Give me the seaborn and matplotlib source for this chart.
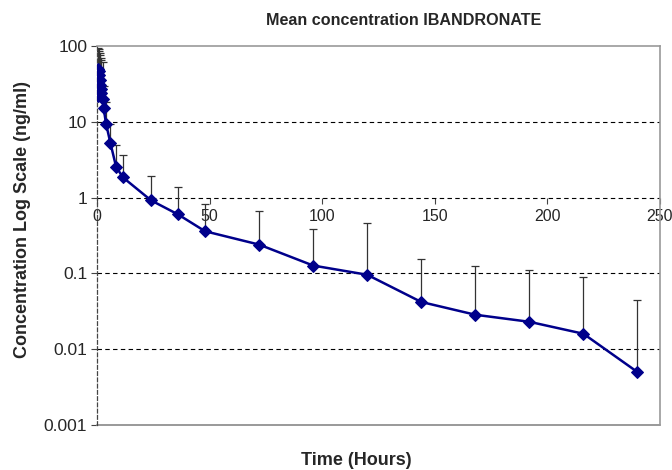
import matplotlib
matplotlib.use("Agg")
import numpy as np
import pandas as pd
import seaborn as sns
import matplotlib.pyplot as plt
from matplotlib.ticker import FixedLocator, FixedFormatter, NullLocator

# Mean concentration data
time_h = [0.25, 0.5, 0.75, 1.0, 1.25, 1.5, 1.75, 2.0, 2.5, 3.0, 4.0, 6.0, 8.5, 11.5,
          24, 36, 48, 72, 96, 120, 144, 168, 192, 216, 240]
mean_conc = [22, 50, 47, 42, 36, 31, 27, 24, 20, 15, 9.5, 5.2, 2.55, 1.85,
             0.92, 0.6, 0.36, 0.24, 0.127, 0.096, 0.042, 0.0285, 0.023, 0.016, 0.005]
upper_conc = [65, 95, 90, 85, 80, 75, 70, 65, 62, 30, 18.5, 9.5, 5.0, 3.6,
              1.95, 1.4, 0.83, 0.67, 0.38, 0.46, 0.157, 0.127, 0.11, 0.089, 0.045]
y_ticks = [0.001, 0.01, 0.1, 1, 10, 100]
y_labels = ["0.001", "0.01", "0.1", "1", "10", "100"]
x_ticks = [0, 50, 100, 150, 200, 250]

df = pd.DataFrame({"time": time_h, "conc": mean_conc})
err_up = np.array(upper_conc) - np.array(mean_conc)

sns.set_style("white")
plt.rcParams["font.family"] = ["Liberation Sans", "DejaVu Sans"]

fig = plt.figure(figsize=(6.72, 4.70), dpi=100)
ax = fig.add_axes([0.1443, 0.0957, 0.8378, 0.8064])

# error bars (upper only)
ax.errorbar(df["time"], df["conc"], yerr=[np.zeros_like(err_up), err_up],
            fmt="none", ecolor="#333333", elinewidth=0.9, capsize=3, capthick=0.9, zorder=2)
sns.lineplot(data=df, x="time", y="conc", ax=ax, color="#00008B", lw=1.8,
             marker="D", markersize=6.5, markeredgecolor="#00008B", zorder=3)

ax.set_yscale("log")
ax.set_ylim(0.001, 100)
ax.set_xlim(0, 250)
ax.yaxis.set_major_locator(FixedLocator(y_ticks))
ax.yaxis.set_major_formatter(FixedFormatter(y_labels))
ax.yaxis.set_minor_locator(NullLocator())
ax.set_xticks(x_ticks)

# dashed horizontal gridlines
for v in [0.01, 0.1, 1, 10]:
    ax.axhline(v, color="black", lw=0.8, ls=(0, (4, 3)), zorder=1)

# frame: gray top/right/bottom, dashed left axis, x-axis crossing at y=1
for s in ["top", "right"]:
    ax.spines[s].set_color("#999999")
    ax.spines[s].set_linewidth(1.2)
ax.spines["bottom"].set_position(("data", 1))
ax.spines["bottom"].set_visible(False)
ax.axhline(0.001, color="#999999", lw=1.4, clip_on=False, zorder=1)
ax.spines["left"].set_color("#444444")
ax.spines["left"].set_linestyle((0, (3, 2)))
ax.spines["left"].set_linewidth(0.9)

ax.tick_params(axis="y", direction="out", length=4, width=0.8, color="#444444",
               labelsize=12.5, pad=3, left=True)
ax.tick_params(axis="x", direction="out", length=4, width=0.8, color="#444444",
               labelsize=11.5, pad=4, bottom=True)

ax.set_xlabel("")
ax.set_ylabel("")
fig.text(0.6, 0.957, "Mean concentration IBANDRONATE", ha="center", va="center",
         fontsize=11.6, fontweight="bold")
fig.text(0.53, 0.021, "Time (Hours)", ha="center", va="center",
         fontsize=13, fontweight="bold")
fig.text(0.033, 0.532, "Concentration Log Scale (ng/ml)", ha="center", va="center",
         rotation=90, fontsize=13, fontweight="bold")

fig.savefig("out.png", dpi=100)
